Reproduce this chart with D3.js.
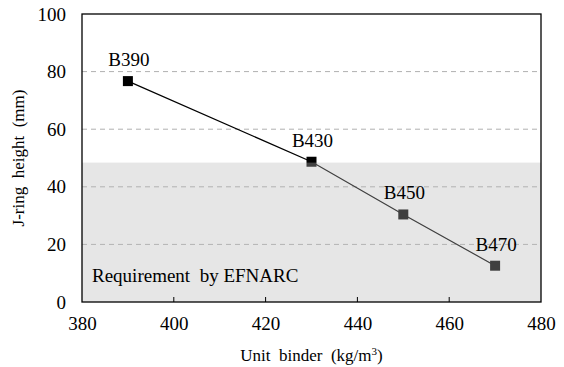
<!DOCTYPE html>
<html>
<head>
<meta charset="utf-8">
<script src="https://cdn.jsdelivr.net/npm/d3@7/dist/d3.min.js"></script>
</head>
<body style="margin:0;background:#fff">
<svg id="chart" width="564" height="367"></svg>
<script>
// Mix labels, unit binder content and J-ring height
const mixes = ["B390", "B430", "B450", "B470"];
const binder = [390, 430, 450, 470];
const jring = [76.7, 48.7, 30.4, 12.6];

// Axis ticks
const xTicks = [380, 400, 420, 440, 460, 480];
const yTicks = [0, 20, 40, 60, 80, 100];
const gridValues = [20, 40, 60, 80];

// Requirement band (EFNARC) upper limit
const requirementMax = 48.4;

const serifFace = "'Liberation Serif'";

const svg = d3.select("#chart");
const margin = { left: 82, right: 23, top: 14, bottom: 65 };
const W = 564, H = 367;

const x = d3.scaleLinear().domain([380, 480]).range([margin.left, W - margin.right]);
const y = d3.scaleLinear().domain([0, 100]).range([H - margin.bottom, margin.top]);

function serif(sel, size) {
  return sel.style("font-family", serifFace, "important")
            .style("font-size", size + "px")
            .attr("fill", "#000");
}

// gridlines
svg.append("g").selectAll("line").data(gridValues).join("line")
  .attr("x1", x(380)).attr("x2", x(480))
  .attr("y1", d => y(d)).attr("y2", d => y(d))
  .attr("stroke", "#b0b0b0").attr("stroke-width", 1)
  .attr("stroke-dasharray", "5,4");

// connecting line
const line = d3.line().x((d, i) => x(binder[i])).y(d => y(d));
svg.append("path").datum(jring)
  .attr("d", line)
  .attr("fill", "none").attr("stroke", "#000").attr("stroke-width", 1.2);

// markers
const ms = 10;
svg.append("g").selectAll("rect").data(jring).join("rect")
  .attr("x", (d, i) => x(binder[i]) - ms / 2)
  .attr("y", d => y(d) - ms / 2)
  .attr("width", ms).attr("height", ms)
  .attr("fill", "#000");

// translucent requirement band over the lower region
svg.append("rect")
  .attr("x", x(380)).attr("y", y(requirementMax))
  .attr("width", x(480) - x(380)).attr("height", y(0) - y(requirementMax))
  .attr("fill", "rgb(183,183,183)").attr("fill-opacity", 0.35);

// point labels
serif(svg.append("g").selectAll("text").data(jring).join("text")
  .attr("x", (d, i) => x(binder[i]) + 1)
  .attr("y", d => y(d) - 15)
  .attr("text-anchor", "middle")
  .text((d, i) => mixes[i]), 19);

// band caption
serif(svg.append("text")
  .attr("x", x(380) + 10).attr("y", y(0) - 20)
  .style("white-space", "pre")
  .text("Requirement  by EFNARC"), 19);

// plot frame
svg.append("rect")
  .attr("x", x(380)).attr("y", y(100))
  .attr("width", x(480) - x(380)).attr("height", y(0) - y(100))
  .attr("fill", "none").attr("stroke", "#000").attr("stroke-width", 1.3);

// x axis
const xAxis = d3.axisBottom(x).tickValues(xTicks).tickSize(0).tickPadding(15)
  .tickFormat(d3.format("d"));
const gx = svg.append("g").attr("transform", `translate(0,${y(0)})`).call(xAxis)
  .attr("font-family", null).attr("font-size", null);
gx.select(".domain").remove();
serif(gx.selectAll("text"), 19);
// inward tick marks
svg.append("g").selectAll("line").data(xTicks.slice(1, -1)).join("line")
  .attr("x1", d => x(d)).attr("x2", d => x(d))
  .attr("y1", y(0)).attr("y2", y(0) - 5)
  .attr("stroke", "#000").attr("stroke-width", 1);

// y axis
const yAxis = d3.axisLeft(y).tickValues(yTicks).tickSize(0).tickPadding(16)
  .tickFormat(d3.format("d"));
const gy = svg.append("g").attr("transform", `translate(${x(380)},0)`).call(yAxis)
  .attr("font-family", null).attr("font-size", null);
gy.select(".domain").remove();
serif(gy.selectAll("text"), 19);

// axis titles
const xt = serif(svg.append("text")
  .attr("x", x(430)).attr("y", 361)
  .attr("text-anchor", "middle")
  .style("white-space", "pre"), 17);
xt.append("tspan").text("Unit  binder  (kg/m");
xt.append("tspan").attr("dy", -6).style("font-size", "11px").text("3");
xt.append("tspan").attr("dy", 6).text(")");

serif(svg.append("text")
  .attr("transform", `translate(24,${(y(0) + y(100)) / 2}) rotate(-90)`)
  .attr("text-anchor", "middle")
  .style("white-space", "pre")
  .text("J-ring  height  (mm)"), 17);
</script>
</body>
</html>
